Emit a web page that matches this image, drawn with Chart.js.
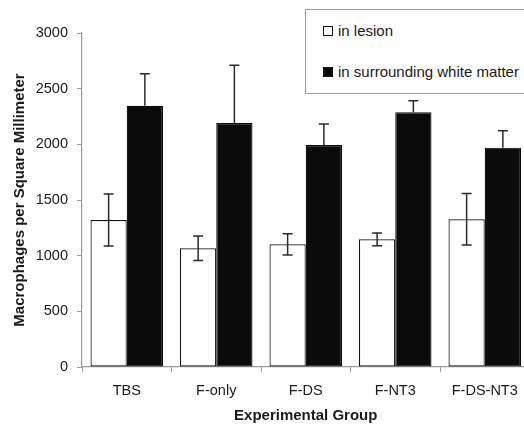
<!DOCTYPE html>
<html>
<head>
<meta charset="utf-8">
<script src="https://cdn.jsdelivr.net/npm/chart.js@4/dist/chart.umd.min.js"></script>
<style>
    html, body { margin: 0; padding: 0; background: #fff; overflow: hidden; }
    #wrap { position: relative; width: 524px; height: 425px; overflow: hidden; }
    #chart { position: absolute; left: 0; top: 0; }
    #legend {
        position: absolute; left: 305px; top: 9px; width: 240px; height: 83px;
        border: 1px solid #9a9a9a; background: #fff;
        font-family: "Liberation Sans", Arial, sans-serif; font-size: 15px; color: #1a1a1a;
    }
    #legend .item { position: absolute; left: 17px; white-space: nowrap; }
    #legend .box { display: inline-block; width: 8px; height: 8px; border: 1px solid #111; margin-right: 5px; vertical-align: 0px; }
</style>
</head>
<body>
<div id="wrap">
    <canvas id="chart" width="532" height="425"></canvas>
    <div id="legend"></div>
</div>
<script>
const categories = ["TBS", "F-only", "F-DS", "F-NT3", "F-DS-NT3"];
const lesionValues = [1320, 1066, 1102, 1147, 1327];
const lesionErrors = [233, 110, 95, 57, 232];
const whiteMatterValues = [2347, 2192, 1994, 2288, 1970];
const whiteMatterErrors = [287, 518, 189, 104, 152];
const yTicks = [0, 500, 1000, 1500, 2000, 2500, 3000];

const fontFamily = "'Liberation Sans', Arial, sans-serif";
const textColor = "#1a1a1a";
const axisColor = "#9a9a9a";

const datasets = [
    { label: "in lesion", data: lesionValues, errors: lesionErrors, backgroundColor: "#ffffff", borderColor: "#111111" },
    { label: "in surrounding white matter", data: whiteMatterValues, errors: whiteMatterErrors, backgroundColor: "#0b0b0b", borderColor: "#0b0b0b" }
];

// error bars drawn from the bar elements and the y scale
const errorBars = {
    id: "errorBars",
    afterDatasetsDraw(chart) {
        const ctx = chart.ctx;
        const y = chart.scales.y;
        ctx.save();
        ctx.strokeStyle = "#2a2a2a";
        ctx.lineWidth = 1.5;
        chart.data.datasets.forEach((ds, di) => {
            const meta = chart.getDatasetMeta(di);
            meta.data.forEach((bar, i) => {
                const v = ds.data[i];
                const e = ds.errors[i];
                const top = y.getPixelForValue(v + e);
                const bottom = y.getPixelForValue(di === 0 ? v - e : v);
                ctx.beginPath();
                ctx.moveTo(bar.x, top);
                ctx.lineTo(bar.x, bottom);
                ctx.moveTo(bar.x - 5, top);
                ctx.lineTo(bar.x + 5, top);
                if (di === 0) {
                    ctx.moveTo(bar.x - 5, bottom);
                    ctx.lineTo(bar.x + 5, bottom);
                }
                ctx.stroke();
            });
        });
        ctx.restore();
    }
};

const chart = new Chart(document.getElementById("chart"), {
    type: "bar",
    data: {
        labels: categories,
        datasets: datasets.map(d => ({
            label: d.label,
            data: d.data,
            errors: d.errors,
            backgroundColor: d.backgroundColor,
            borderColor: d.borderColor,
            borderWidth: 1.2,
            borderSkipped: false,
            categoryPercentage: 0.81,
            barPercentage: 1.0
        }))
    },
    options: {
        responsive: false,
        animation: false,
        layout: { padding: { top: 33, right: 2.5, bottom: 0, left: 0 } },
        plugins: {
            legend: { display: false },
            tooltip: { enabled: false }
        },
        scales: {
            x: {
                grid: { display: true, offset: true, drawOnChartArea: false, tickLength: 5, color: axisColor },
                border: { color: axisColor, width: 1.2 },
                ticks: { color: textColor, font: { family: fontFamily, size: 14.5 }, padding: 10, maxRotation: 0 },
                title: { display: true, text: "Experimental Group", color: textColor, font: { family: fontFamily, size: 15, weight: "bold" }, padding: { top: 8, bottom: 0 } },
                afterFit(scale) { scale.height = 58; }
            },
            y: {
                min: 0,
                max: 3000,
                afterBuildTicks(scale) { scale.ticks = yTicks.map(v => ({ value: v })); },
                grid: { display: true, drawOnChartArea: false, tickLength: 5, color: axisColor },
                border: { color: axisColor, width: 1.2 },
                ticks: { color: textColor, font: { family: fontFamily, size: 14.5 }, padding: 9, callback: v => String(v) },
                title: { display: true, text: "Macrophages per Square Millimeter", color: textColor, font: { family: fontFamily, size: 15, weight: "bold" }, padding: { top: 11, bottom: 0 } },
                afterFit(scale) { scale.width = 82; }
            }
        }
    },
    plugins: [errorBars]
});

// html legend built from the chart datasets
const legend = document.getElementById("legend");
chart.data.datasets.forEach((ds, i) => {
    const item = document.createElement("div");
    item.className = "item";
    item.style.top = (i === 0 ? 12 : 53) + "px";
    item.innerHTML = `<span class="box" style="background:${ds.backgroundColor}"></span>${ds.label}`;
    legend.appendChild(item);
});
</script>
</body>
</html>
